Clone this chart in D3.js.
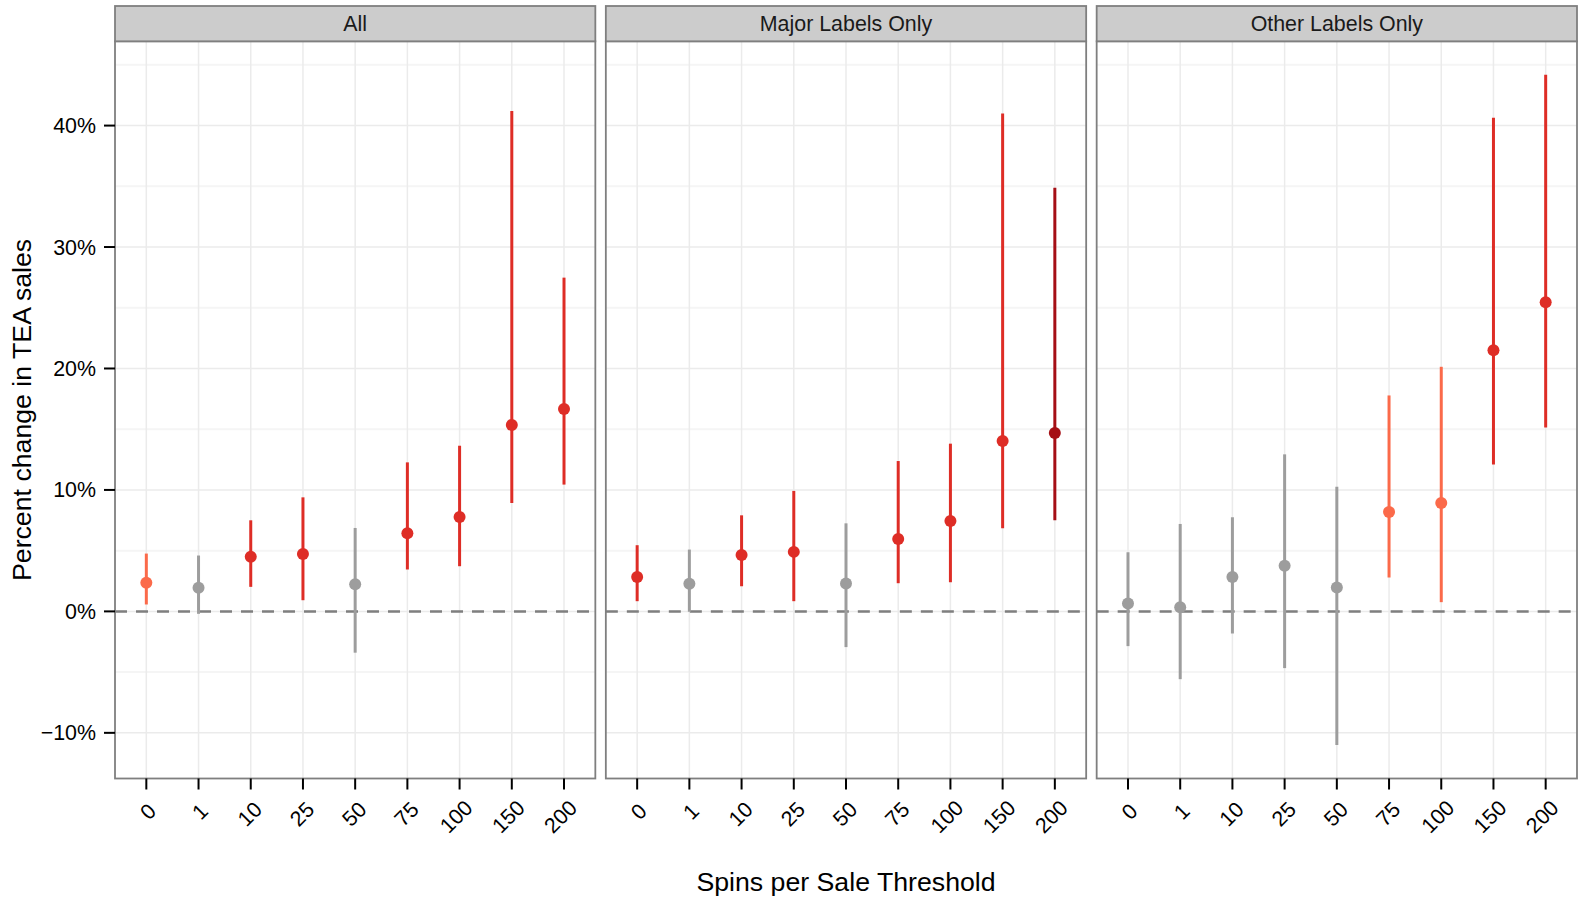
<!DOCTYPE html>
<html>
<head>
<meta charset="utf-8">
<script src="https://cdn.jsdelivr.net/npm/d3@7"></script>
<style>
  body { margin: 0; background: #fff; }
  text { font-family: "Liberation Sans", Arial, sans-serif; }
</style>
</head>
<body>
<script>
// thresholds on the x axis, same for every facet
var thresholds = ["0", "1", "10", "25", "50", "75", "100", "150", "200"];
var facets = ["All", "Major Labels Only", "Other Labels Only"];

// point estimates and interval ends, in percent
var allEst = [2.35, 1.94, 4.49, 4.73, 2.24, 6.43, 7.78, 15.35, 16.66];
var allLo  = [0.57, -0.2, 2.02, 0.92, -3.4, 3.45, 3.72, 8.93, 10.44];
var allHi  = [4.76, 4.6, 7.5, 9.39, 6.87, 12.27, 13.64, 41.2, 27.48];
var allSig = ["p10", "ns", "p05", "p05", "ns", "p05", "p05", "p05", "p05"];

var majorEst = [2.84, 2.27, 4.65, 4.9, 2.29, 5.97, 7.45, 14.03, 14.69];
var majorLo  = [0.84, -0.03, 2.07, 0.84, -2.94, 2.32, 2.4, 6.84, 7.5];
var majorHi  = [5.45, 5.09, 7.91, 9.92, 7.25, 12.38, 13.81, 41.0, 34.88];
var majorSig = ["p05", "ns", "p05", "p05", "ns", "p05", "p05", "p05", "p01"];

var otherEst = [0.65, 0.35, 2.84, 3.75, 1.97, 8.19, 8.93, 21.51, 25.46];
var otherLo  = [-2.86, -5.58, -1.82, -4.67, -11.0, 2.79, 0.76, 12.1, 15.15];
var otherHi  = [4.87, 7.2, 7.75, 12.93, 10.27, 17.78, 20.14, 40.64, 44.18];
var otherSig = ["ns", "ns", "ns", "ns", "ns", "p10", "p10", "p05", "p05"];

var yMajor = [-10, 0, 10, 20, 30, 40];
var yMinor = [-5, 5, 15, 25, 35, 45];

var sigColor = {ns: "#9d9d9d", p10: "#FB6A4A", p05: "#DE2D26", p01: "#A50F15"};

function rows(est, lo, hi, sig) {
  return thresholds.map(function(t, i) {
    return {t: t, est: est[i], lo: lo[i], hi: hi[i], sig: sig[i]};
  });
}
var panelData = [
  rows(allEst, allLo, allHi, allSig),
  rows(majorEst, majorLo, majorHi, majorSig),
  rows(otherEst, otherLo, otherHi, otherSig)
];

var W = 1579, H = 899;
var left = 115, right = 1577, gap = 10.5;
var stripTop = 6, panelTop = 41.3, panelBottom = 778.5;
var pw = (right - left - 2 * gap) / 3;

// y range with ggplot style 5% expansion
var lows = [].concat(allLo, majorLo, otherLo), highs = [].concat(allHi, majorHi, otherHi);
var ymin = d3.min(lows), ymax = d3.max(highs), pad = (ymax - ymin) * 0.05;
var y = d3.scaleLinear().domain([ymin - pad, ymax + pad]).range([panelBottom, panelTop]);

var svg = d3.select("body").append("svg")
  .attr("width", W).attr("height", H);

svg.append("rect").attr("width", W).attr("height", H).attr("fill", "#fff");

panelData.forEach(function(data, p) {
  var px = left + p * (pw + gap);
  var x = d3.scalePoint().domain(thresholds).range([px, px + pw]).padding(0.6);
  var g = svg.append("g");

  g.append("rect")
    .attr("x", px).attr("y", panelTop)
    .attr("width", pw).attr("height", panelBottom - panelTop)
    .attr("fill", "#fff");

  g.selectAll(".minor").data(yMinor).enter().append("line")
    .attr("x1", px).attr("x2", px + pw)
    .attr("y1", function(d) { return y(d); }).attr("y2", function(d) { return y(d); })
    .attr("stroke", "#f5f5f5").attr("stroke-width", 2);

  g.selectAll(".hgrid").data(yMajor).enter().append("line")
    .attr("x1", px).attr("x2", px + pw)
    .attr("y1", function(d) { return y(d); }).attr("y2", function(d) { return y(d); })
    .attr("stroke", "#ebebeb").attr("stroke-width", 1.5);

  g.selectAll(".vgrid").data(thresholds).enter().append("line")
    .attr("x1", function(d) { return x(d); }).attr("x2", function(d) { return x(d); })
    .attr("y1", panelTop).attr("y2", panelBottom)
    .attr("stroke", "#ebebeb").attr("stroke-width", 1.5);

  g.append("line")
    .attr("x1", px).attr("x2", px + pw)
    .attr("y1", y(0)).attr("y2", y(0))
    .attr("stroke", "#7f7f7f").attr("stroke-width", 2.5)
    .attr("stroke-dasharray", "12,9");

  g.selectAll(".bar").data(data).enter().append("line")
    .attr("x1", function(d) { return x(d.t); }).attr("x2", function(d) { return x(d.t); })
    .attr("y1", function(d) { return y(d.lo); }).attr("y2", function(d) { return y(d.hi); })
    .attr("stroke", function(d) { return sigColor[d.sig]; })
    .attr("stroke-width", 3);

  g.selectAll(".dot").data(data).enter().append("circle")
    .attr("cx", function(d) { return x(d.t); })
    .attr("cy", function(d) { return y(d.est); })
    .attr("r", 6)
    .attr("fill", function(d) { return sigColor[d.sig]; });

  g.append("rect")
    .attr("x", px).attr("y", panelTop)
    .attr("width", pw).attr("height", panelBottom - panelTop)
    .attr("fill", "none").attr("stroke", "#7f7f7f").attr("stroke-width", 1.8);

  // facet strip
  g.append("rect")
    .attr("x", px).attr("y", stripTop)
    .attr("width", pw).attr("height", panelTop - stripTop)
    .attr("fill", "#cccccc").attr("stroke", "#7f7f7f").attr("stroke-width", 1.8);
  g.append("text")
    .attr("x", px + pw / 2).attr("y", (stripTop + panelTop) / 2)
    .attr("dy", "0.35em").attr("text-anchor", "middle")
    .style("font-size", "21.4px").attr("fill", "#1a1a1a")
    .text(facets[p]);

  // x ticks and rotated labels
  g.selectAll(".xtick").data(thresholds).enter().append("line")
    .attr("x1", function(d) { return x(d); }).attr("x2", function(d) { return x(d); })
    .attr("y1", panelBottom).attr("y2", panelBottom + 11)
    .attr("stroke", "#000").attr("stroke-width", 2);

  g.selectAll(".xlab").data(thresholds).enter().append("text")
    .attr("transform", function(d) { return "translate(" + (x(d) + 4) + ",809) rotate(-45)"; })
    .attr("dy", "0.35em")
    .style("font-size", "21.4px").attr("fill", "#000")
    .text(function(d) { return d; })
    .attr("x", function() { return -0.8 * this.getComputedTextLength(); });

  if (p === 0) {
    g.selectAll(".ytick").data(yMajor).enter().append("line")
      .attr("x1", px - 11).attr("x2", px)
      .attr("y1", function(d) { return y(d); }).attr("y2", function(d) { return y(d); })
      .attr("stroke", "#000").attr("stroke-width", 2);
    g.selectAll(".ylab").data(yMajor).enter().append("text")
      .attr("x", px - 19).attr("y", function(d) { return y(d); })
      .attr("dy", "0.35em").attr("text-anchor", "end")
      .style("font-size", "21.4px").attr("fill", "#000")
      .text(function(d) { return (d < 0 ? "\u2212" + Math.abs(d) : d) + "%"; });
  }
});

svg.append("text")
  .attr("x", (left + right) / 2).attr("y", 891)
  .attr("text-anchor", "middle")
  .style("font-size", "26.7px").attr("fill", "#000")
  .text("Spins per Sale Threshold");

svg.append("text")
  .attr("transform", "translate(22," + (panelTop + panelBottom) / 2 + ") rotate(-90)")
  .attr("dy", "0.35em").attr("text-anchor", "middle")
  .style("font-size", "26.7px").attr("fill", "#000")
  .text("Percent change in TEA sales");
</script>
</body>
</html>
